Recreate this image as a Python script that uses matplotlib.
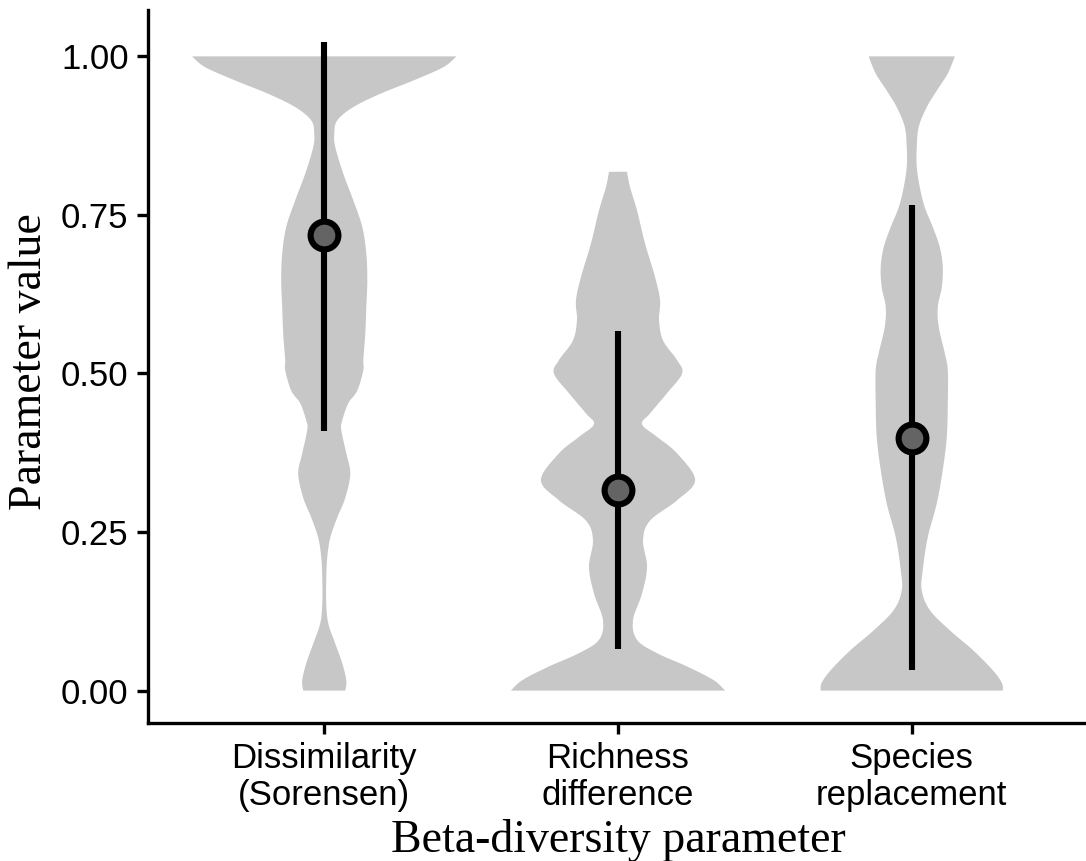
import numpy as np
import matplotlib.pyplot as plt

# categories on the x axis
categories = ['Dissimilarity\n(Sorensen)', 'Richness\ndifference', 'Species\nreplacement']

# violin outlines: parameter value and relative half-width
dis_y = [0.000, 0.016, 0.043, 0.074, 0.106, 0.137, 0.178, 0.210, 0.241, 0.273,
         0.304, 0.342, 0.374, 0.411, 0.426, 0.453, 0.473, 0.505, 0.521, 0.563,
         0.605, 0.647, 0.689, 0.731, 0.773, 0.815, 0.857, 0.878, 0.899, 0.920,
         0.941, 0.962, 0.983, 1.000]
dis_w = [21, 22, 18, 11, 4, 2, 2, 3, 6, 13,
         21, 26, 22, 17, 18, 24, 33, 39, 39, 41,
         42, 43, 42, 38, 29, 19, 11, 10, 13, 29,
         56, 89, 119, 132]

rich_y = [0.000, 0.017, 0.038, 0.059, 0.080, 0.111, 0.153, 0.195, 0.237, 0.268,
          0.300, 0.332, 0.374, 0.400, 0.420, 0.437, 0.469, 0.500, 0.521, 0.552,
          0.584, 0.615, 0.652, 0.705, 0.757, 0.794, 0.818]
rich_w = [107, 95, 69, 39, 19, 15, 24, 29, 25, 32,
          59, 77, 59, 39, 24, 32, 49, 64, 59, 45,
          41, 42, 37, 27, 19, 12, 9]

repl_y = [0.000, 0.012, 0.032, 0.064, 0.095, 0.127, 0.158, 0.190, 0.242, 0.295,
          0.348, 0.400, 0.453, 0.505, 0.532, 0.573, 0.605, 0.636, 0.668, 0.699,
          0.731, 0.762, 0.794, 0.826, 0.857, 0.889, 0.920, 0.946, 0.973, 1.000]
repl_w = [91, 90, 81, 61, 38, 18, 10, 11, 16, 25,
          31, 35, 36, 36, 33, 27, 26, 30, 31, 28,
          21, 13, 8, 5, 5, 7, 15, 25, 36, 43]

# point and interval for each parameter
medians = [0.718, 0.317, 0.398]
lower = [0.410, 0.065, 0.032]
upper = [1.022, 0.567, 0.766]

yticks = [0.00, 0.25, 0.50, 0.75, 1.00]


def smooth(y, w, n=16):
    # catmull-rom through the read points
    pts = np.column_stack([y, w]).astype(float)
    p = np.vstack([pts[0], pts, pts[-1]])
    t = np.linspace(0, 1, n, endpoint=False)[:, None]
    out = []
    for i in range(1, len(p) - 2):
        p0, p1, p2, p3 = p[i - 1], p[i], p[i + 1], p[i + 2]
        out.append(0.5 * (2 * p1 + (-p0 + p2) * t
                          + (2 * p0 - 5 * p1 + 4 * p2 - p3) * t ** 2
                          + (-p0 + 3 * p1 - 3 * p2 + p3) * t ** 3))
    out.append(pts[-1:])
    out = np.vstack(out)
    return out[:, 0], np.clip(out[:, 1], 0, None)


fig = plt.figure(figsize=(10.86, 8.61), dpi=100)
ax = fig.add_axes([148 / 1086, 1 - 723 / 861, 940 / 1086, (723 - 10) / 861])

wscale = 0.45 / 132
violins = [(dis_y, dis_w), (rich_y, rich_w), (repl_y, repl_w)]
for i, (vy, vw) in enumerate(violins):
    x0 = i + 1
    sy, sw = smooth(vy, vw)
    xs = np.concatenate([x0 + sw * wscale, (x0 - sw * wscale)[::-1]])
    ys = np.concatenate([sy, sy[::-1]])
    ax.fill(xs, ys, color='#c7c7c7', lw=0, zorder=1)

xpos = np.arange(1, len(categories) + 1)
ax.vlines(xpos, lower, upper, color='black', lw=4.4, zorder=2)
ax.plot(xpos, medians, 'o', ms=20, mfc='#646464', mec='black', mew=4.4, zorder=3)

ax.set_xlim(0.4, 3.6)
ax.set_ylim(-0.0511, 1.0731)
ax.set_xticks(xpos)
ax.set_xticklabels(categories, linespacing=1.12)
ax.set_yticks(yticks)
ax.set_yticklabels(['%.2f' % v for v in yticks])

for s in ['top', 'right']:
    ax.spines[s].set_visible(False)
for s in ['left', 'bottom']:
    ax.spines[s].set_linewidth(2.4)
ax.tick_params(length=8, width=2.4, pad=6, labelsize=25, colors='black')
for lab in ax.get_xticklabels() + ax.get_yticklabels():
    lab.set_fontfamily('Liberation Sans')

fig.text(30 / 1086, 1 - 362 / 861, 'Parameter value', rotation=90,
         ha='center', va='center', fontsize=33, family='Liberation Serif')
fig.text(618 / 1086, 1 - 852 / 861, 'Beta-diversity parameter',
         ha='center', va='baseline', fontsize=33, family='Liberation Serif')

fig.savefig('out.png', dpi=100, facecolor='white')
